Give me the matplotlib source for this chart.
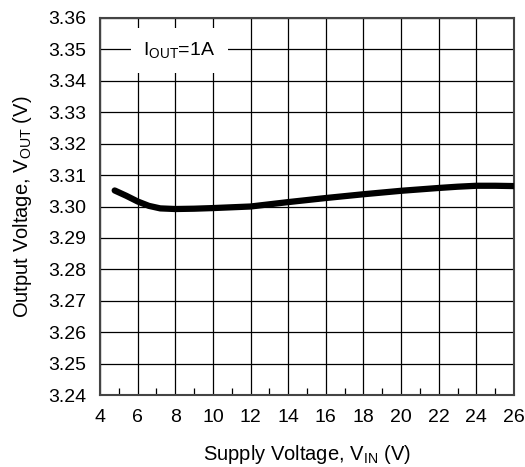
import matplotlib
matplotlib.use("Agg")
import matplotlib.pyplot as plt
from matplotlib.ticker import MultipleLocator

vin = [4.78, 5.4, 6.0, 6.6, 7.2, 8.0, 9.0, 10.0, 12.0, 14.0, 16.0, 18.0, 20.0, 22.0, 23.0, 24.0, 25.0, 26.0]
vout = [3.3051, 3.3034, 3.3016, 3.3002, 3.2994, 3.2992, 3.2993, 3.2995, 3.3000, 3.3014, 3.3027, 3.3039, 3.3050, 3.3059, 3.3063, 3.3066, 3.3066, 3.3065]
xticks = list(range(4, 27, 2))
yticks = [3.24 + 0.01 * i for i in range(13)]

plt.rcParams['font.family'] = ['Liberation Sans', 'DejaVu Sans']
plt.rcParams['mathtext.fontset'] = 'custom'
plt.rcParams['mathtext.rm'] = 'Liberation Sans'

fig = plt.figure(figsize=(5.25, 4.67), dpi=100)
ax = fig.add_axes([100/525, 1 - 395/467, 414/525, 377/467])

ax.plot(vin, vout, color='black', lw=4.5, solid_capstyle='round', solid_joinstyle='round', zorder=3)
ax.set_xlim(4, 26)
ax.set_ylim(3.24, 3.36)
ax.set_xticks(xticks)
ax.set_yticks(yticks)
ax.set_yticklabels([f"{v:.2f}" for v in yticks])
ax.xaxis.set_minor_locator(MultipleLocator(1))
ax.grid(True, which='major', color='black', lw=0.9)
ax.tick_params(which='both', direction='in', labelsize=14, color='black')
ax.tick_params(which='major', length=0)
ax.tick_params(axis='x', pad=10)
ax.tick_params(axis='y', pad=10)
ax.tick_params(which='minor', length=5, width=0.9)
for s in ax.spines.values():
    s.set_color('#444444')
    s.set_linewidth(1.5)

ax.text(0.105, 0.913, r'I$_{\mathregular{OUT}}$=1A', transform=ax.transAxes,
        fontsize=14, ha='left', va='center', zorder=4,
        bbox=dict(facecolor='white', edgecolor='none', pad=9))

ax.set_xlabel(r'Supply Voltage, V$_{\mathregular{IN}}$ (V)', fontsize=14.5, labelpad=12)
ax.set_ylabel(r'Output Voltage, V$_{\mathregular{OUT}}$ (V)', fontsize=14.5, labelpad=10)

fig.savefig('out.png', dpi=100)
